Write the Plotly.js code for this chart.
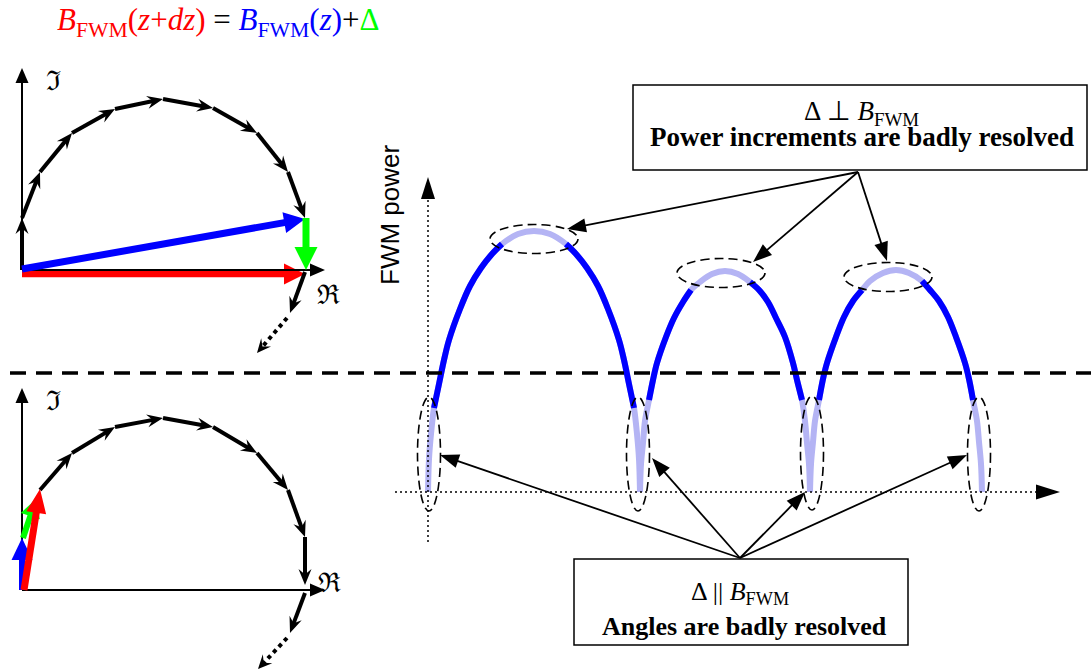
<!DOCTYPE html>
<html><head><meta charset="utf-8">
<script src="https://cdn.plot.ly/plotly-3.0.1.min.js"></script>
<style>html,body{margin:0;padding:0;background:#fff}#chart{width:1091px;height:672px}</style>
</head><body><div id="chart"></div>
<script>
// ================= DATA (canvas pixel coordinates) =================
// Upper phasor panel: chain of small FWM increments
const upperChainX = [22, 22, 40, 72, 115, 163, 213, 257, 288, 305];
const upperChainY = [270, 218, 172, 133, 109, 99, 108, 133, 172, 218];
const upperOrigin = [22, 270];
const upperAxisTipI = [22, 68];
const upperAxisTipR = [325, 270];
const upperBlue = [22, 269, 305, 219];     // B_FWM(z)
const upperRed = [22, 274, 305, 274];      // B_FWM(z+dz)
const upperGreen = [306, 218, 306, 270];   // Delta
const upperNextX = [305, 290];
const upperNextY = [272, 313];
const upperDotX = [287, 257];
const upperDotY = [318, 353];

// Lower phasor panel
const lowerChainX = [40, 72, 115, 163, 213, 257, 288, 305, 305];
const lowerChainY = [490, 453, 427, 418, 427, 453, 490, 537, 585];
const lowerOrigin = [22, 590];
const lowerAxisTipI = [22, 388];
const lowerAxisTipR = [325, 590];
const lowerBlue = [22, 590, 22, 538];
const lowerGreen = [23, 538, 36, 499];
const lowerRed = [24, 590, 40, 489];
const lowerNextX = [305, 290];
const lowerNextY = [593, 633];
const lowerDotX = [287, 258];
const lowerDotY = [638, 669];

// FWM power vs z (three humps)
const hump1X = [428,429,431,434,439,444,449,460,470,481,492,502,518,534,550,566,576,587,598,608,619,624,629,634,637,639,640];
const hump1Y = [492,459,434,408,384,360,340,309,286,268,254,244,234,231,234,244,254,268,286,309,340,360,384,408,434,459,492];
const hump1Blue = [[3,11],[15,23]];
const hump2X = [640,641,643,645,649,653,657,666,674,683,691,700,712,725,738,750,759,768,776,785,793,797,802,805,807,809,810];
const hump2Y = [492,464,443,421,400,380,363,337,318,302,290,282,274,271,274,282,290,302,318,337,363,380,400,421,443,464,492];
const hump2Blue = [[4,10],[15,22]];
const hump3X = [810,811,813,815,819,823,827,836,844,853,862,870,883,896,909,922,930,939,948,956,965,969,973,977,979,981,982];
const hump3Y = [492,464,442,421,400,379,363,337,317,301,290,281,273,270,273,281,290,301,317,337,363,379,400,421,442,464,492];
const hump3Blue = [[4,10],[15,22]];

// Dashed marker ellipses
const topEllCX = [534, 721, 888];
const topEllCY = [239, 273, 277];
const footEllCX = [429, 638, 812, 979];
const footEllCY = [454, 454, 453, 454];

// Callout arrows
const perpSource = [858, 172];
const perpTargetX = [567, 753, 887];
const perpTargetY = [229, 262, 261];
const parSource = [740, 558];
const parTargetX = [440, 652, 805, 967];
const parTargetY = [455, 458, 492, 455];

// ================= DRAWING =================
const shapes = [];
const annotations = [];
const traces = [];

function arrow(x0, y0, x1, y1, o) {
  const dx = x1 - x0, dy = y1 - y0, len = Math.hypot(dx, dy);
  const ux = dx / len, uy = dy / len, px = -uy, py = ux;
  const L = o.hl, W = o.hw / 2;
  const notch = o.barb ? L * o.barb : L;
  const lx = x1 - ux * Math.max(notch - 1.5, 0), ly = y1 - uy * Math.max(notch - 1.5, 0);
  shapes.push({type: 'line', xref: 'x', yref: 'y', x0: x0, y0: y0, x1: lx, y1: ly,
    line: {color: o.c, width: o.w, dash: o.dash || 'solid'}, layer: 'above'});
  const bx = x1 - ux * L, by = y1 - uy * L, nx = x1 - ux * notch, ny = y1 - uy * notch;
  shapes.push({type: 'path', xref: 'x', yref: 'y',
    path: `M${x1},${y1} L${bx + px * W},${by + py * W} L${nx},${ny} L${bx - px * W},${by - py * W} Z`,
    fillcolor: o.c, line: {width: 0}, layer: 'above'});
}

const AX = {c: '#000', w: 2, hl: 15, hw: 13};
const CH = {c: '#000', w: 4, hl: 16, hw: 13, barb: 0.65};
const DOT = {c: '#000', w: 4, hl: 14, hw: 13, barb: 0.6, dash: '4px,4px'};

function phasorPanel(chainX, chainY, nextX, nextY, dotX, dotY) {
  for (let i = 0; i < chainX.length - 1; i++)
    arrow(chainX[i], chainY[i], chainX[i + 1], chainY[i + 1], CH);
  arrow(nextX[0], nextY[0], nextX[1], nextY[1], CH);
  arrow(dotX[0], dotY[0], dotX[1], dotY[1], DOT);
}

// upper panel
arrow(upperRed[0], upperRed[1], upperRed[2], upperRed[3], {c: '#ff0000', w: 6.5, hl: 21, hw: 21});
arrow(upperOrigin[0], upperOrigin[1], upperAxisTipI[0], upperAxisTipI[1], AX);
arrow(upperOrigin[0], upperOrigin[1], upperAxisTipR[0], upperAxisTipR[1], AX);
phasorPanel(upperChainX, upperChainY, upperNextX, upperNextY, upperDotX, upperDotY);
arrow(upperBlue[0], upperBlue[1], upperBlue[2], upperBlue[3], {c: '#0000ff', w: 7, hl: 21, hw: 21});
arrow(upperGreen[0], upperGreen[1], upperGreen[2], upperGreen[3], {c: '#00ff00', w: 7, hl: 23, hw: 23});

// lower panel
arrow(lowerOrigin[0], lowerOrigin[1], lowerAxisTipI[0], lowerAxisTipI[1], AX);
arrow(lowerOrigin[0], lowerOrigin[1], lowerAxisTipR[0], lowerAxisTipR[1], AX);
phasorPanel(lowerChainX, lowerChainY, lowerNextX, lowerNextY, lowerDotX, lowerDotY);
arrow(lowerBlue[0], lowerBlue[1], lowerBlue[2], lowerBlue[3], {c: '#0000ff', w: 6, hl: 22, hw: 21});
arrow(lowerGreen[0], lowerGreen[1], lowerGreen[2], lowerGreen[3], {c: '#00ff00', w: 6, hl: 18, hw: 20});
arrow(lowerRed[0], lowerRed[1], lowerRed[2], lowerRed[3], {c: '#ff0000', w: 7, hl: 24, hw: 20});

// separator dashed line
shapes.push({type: 'line', x0: 10, x1: 1091, y0: 373, y1: 373, xref: 'x', yref: 'y',
  line: {color: '#000', width: 3.5, dash: '16px,10px'}, layer: 'above'});

// right-hand dotted axes
arrow(428, 542, 428, 177, {c: '#000', w: 1.5, hl: 22, hw: 14, dash: '2px,3px'});
arrow(395, 492, 1060, 492, {c: '#000', w: 1.5, hl: 24, hw: 15, dash: '2px,3px'});

// FWM power humps
const PALE = '#b4b4f4', BLUE = '#0000ff';
[[hump1X, hump1Y, hump1Blue], [hump2X, hump2Y, hump2Blue], [hump3X, hump3Y, hump3Blue]].forEach(([hx, hy, segs]) => {
  traces.push({x: hx, y: hy, type: 'scatter', mode: 'lines', hoverinfo: 'skip',
    line: {color: PALE, width: 6, shape: 'spline', smoothing: 1}});
  segs.forEach(([a, b]) => {
    traces.push({x: hx.slice(a, b + 1), y: hy.slice(a, b + 1), type: 'scatter', mode: 'lines', hoverinfo: 'skip',
      line: {color: BLUE, width: 6, shape: 'spline', smoothing: 1}});
  });
});

// dashed ellipses
const ELL = {color: '#000', width: 1.6, dash: '9px,5px'};
topEllCX.forEach((cx, i) => shapes.push({type: 'circle', xref: 'x', yref: 'y',
  x0: cx - 44, x1: cx + 44, y0: topEllCY[i] - 14.5, y1: topEllCY[i] + 14.5, line: ELL, layer: 'above'}));
footEllCX.forEach((cx, i) => shapes.push({type: 'circle', xref: 'x', yref: 'y',
  x0: cx - 11.5, x1: cx + 11.5, y0: footEllCY[i] - 57, y1: footEllCY[i] + 57, line: ELL, layer: 'above'}));

// callout arrows
const CALL = {c: '#000', w: 1.8, hl: 19, hw: 14};
perpTargetX.forEach((tx, i) => arrow(perpSource[0], perpSource[1], tx, perpTargetY[i], CALL));
parTargetX.forEach((tx, i) => arrow(parSource[0], parSource[1], tx, parTargetY[i], CALL));

// boxes
shapes.push({type: 'rect', xref: 'x', yref: 'y', x0: 633, x1: 1087, y0: 85, y1: 170,
  line: {color: '#000', width: 1.5}, fillcolor: '#fff', layer: 'above'});
shapes.push({type: 'rect', xref: 'x', yref: 'y', x0: 574, x1: 908, y0: 559, y1: 645,
  line: {color: '#000', width: 1.5}, fillcolor: '#fff', layer: 'above'});

// texts
const SERIF = 'Liberation Serif, Times New Roman, serif';
function txt(x, y, t, size, fam, extra) {
  annotations.push(Object.assign({x: x, y: y, xref: 'x', yref: 'y', text: t, showarrow: false,
    font: {family: fam || SERIF, size: size, color: '#000'}, xanchor: 'center', yanchor: 'middle'}, extra || {}));
}
txt(55, 22, '<span style="color:#ff0000"><i>B</i><sub>FWM</sub>(<i>z</i>+<i>dz</i>)</span> = ' +
  '<span style="color:#0000ff"><i>B</i><sub>FWM</sub>(<i>z</i>)</span>+<span style="color:#00ff00">Δ</span>',
  31, SERIF, {xanchor: 'left'});
txt(53, 80, 'ℑ', 27, 'DejaVu Serif');
txt(328, 294, 'ℜ', 27, 'DejaVu Serif');
txt(53, 400, 'ℑ', 27, 'DejaVu Serif');
txt(329, 582, 'ℜ', 27, 'DejaVu Serif');
txt(390, 215, 'FWM power', 26, 'Liberation Sans, Arial, sans-serif', {textangle: -90});
txt(861, 113, 'Δ ⊥ <i>B</i><sub>FWM</sub>', 27);
txt(862, 137, '<b>Power increments are badly resolved</b>', 27);
txt(740, 593, 'Δ || <i>B</i><sub>FWM</sub>', 26);
txt(744, 626, '<b>Angles are badly resolved</b>', 26);

const layout = {
  width: 1091, height: 672, margin: {l: 0, r: 0, t: 0, b: 0, pad: 0},
  paper_bgcolor: '#fff', plot_bgcolor: '#fff', showlegend: false,
  xaxis: {range: [0, 1091], visible: false, fixedrange: true},
  yaxis: {range: [672, 0], visible: false, fixedrange: true},
  shapes: shapes, annotations: annotations
};
Plotly.newPlot('chart', traces, layout, {staticPlot: true, displayModeBar: false});
</script></body></html>
